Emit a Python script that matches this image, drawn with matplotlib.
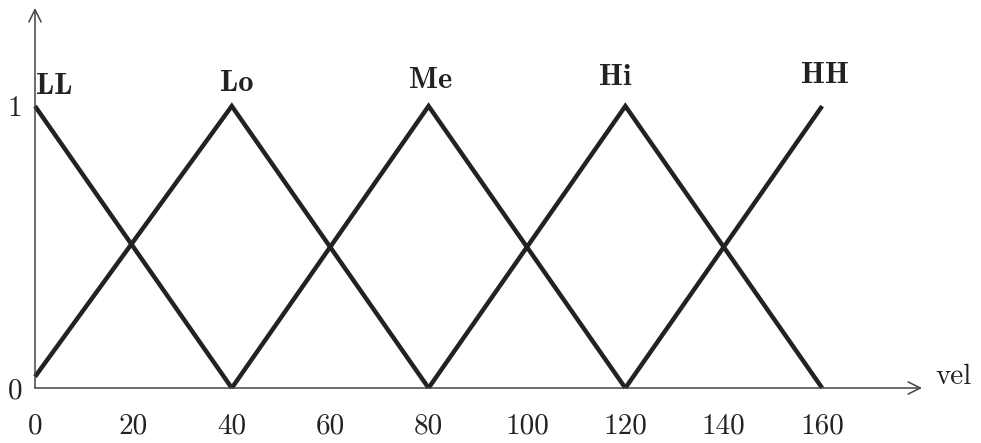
import matplotlib
matplotlib.use("Agg")
import matplotlib.pyplot as plt

# membership functions for "vel" (breakpoints and grades)
terms = ["LL", "Lo", "Me", "Hi", "HH"]
ll_x, ll_y = [0, 40], [1, 0]
lo_x, lo_y = [0, 40, 80], [0.04, 1, 0]
me_x, me_y = [40, 80, 120], [0, 1, 0]
hi_x, hi_y = [80, 120, 160], [0, 1, 0]
hh_x, hh_y = [120, 160], [0, 1]
xticks = [0, 20, 40, 60, 80, 100, 120, 140, 160]
yticks = [0, 1]

# where the term names sit (x, y)
label_pos = [(4, 1.07), (41, 1.08), (80.5, 1.09), (118, 1.10), (160.5, 1.11)]

INK = "#222222"
plt.rcParams["font.family"] = "cmr10"
plt.rcParams["axes.formatter.use_mathtext"] = True

fig = plt.figure(figsize=(9.81, 4.43), dpi=100)
ax = fig.add_axes([35 / 981, 55 / 443, 887 / 981, 380 / 443])
ax.set_xlim(0, 180.3)
ax.set_ylim(0, 1.348)

for xs, ys in [(ll_x, ll_y), (lo_x, lo_y), (me_x, me_y), (hi_x, hi_y), (hh_x, hh_y)]:
    ax.plot(xs, ys, color=INK, lw=3.2, solid_joinstyle="miter", solid_capstyle="butt",
            clip_on=False)

for s in ax.spines.values():
    s.set_visible(False)

# axes drawn as arrows
arrow = dict(arrowstyle="->", color="#444444", lw=1.1, mutation_scale=22, shrinkA=0, shrinkB=0)
ax.annotate("", xy=(180.3, 0), xytext=(0, 0), arrowprops=arrow, annotation_clip=False)
ax.annotate("", xy=(0, 1.348), xytext=(0, 0), arrowprops=arrow, annotation_clip=False)

ax.set_xticks(xticks)
ax.set_xticklabels([str(t) for t in xticks], fontsize=21, color=INK)
ax.set_yticks(yticks)
ax.set_yticklabels([str(t) for t in yticks], fontsize=21, color=INK)
ax.tick_params(axis="x", length=0, pad=18)
ax.tick_params(axis="y", length=0, pad=9)

for name, (x, y) in zip(terms, label_pos):
    ax.text(x, y, name, fontsize=22, family="cmb10", color=INK, ha="center", va="center")

ax.text(183, 0.04, "vel", fontsize=21, color=INK, ha="left", va="center", clip_on=False)

fig.savefig("out.png", dpi=100)
